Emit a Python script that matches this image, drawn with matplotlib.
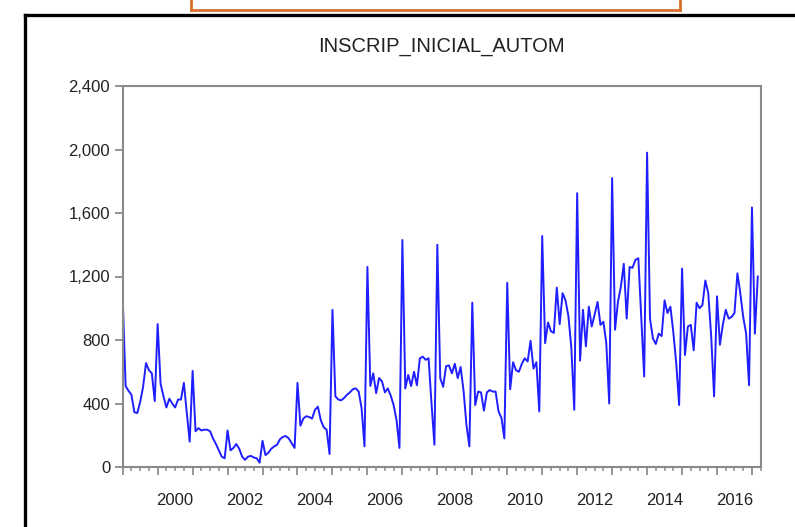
import numpy as np
import matplotlib
matplotlib.use("Agg")
import matplotlib.pyplot as plt
from matplotlib.lines import Line2D

plt.rcParams['font.family'] = ['Liberation Sans', 'DejaVu Sans']

# monthly series, 1999M01 .. 2017M03
start_year = 1999
values = [1070, 510, 480, 455, 345, 340, 410, 505, 655, 610, 590, 415,
          900, 525, 445, 375, 430, 400, 375, 425, 425, 530, 340, 160,
          605, 225, 245, 230, 235, 235, 225, 180, 145, 105, 65, 55,
          230, 105, 120, 145, 115, 65, 45, 65, 70, 60, 55, 27,
          165, 75, 90, 115, 130, 140, 175, 190, 195, 180, 150, 120,
          530, 260, 305, 320, 315, 305, 360, 380, 295, 250, 235, 82,
          990, 445, 425, 420, 435, 455, 470, 490, 495, 475, 370, 130,
          1260, 510, 590, 465, 560, 540, 470, 495, 450, 390, 295, 120,
          1430, 495, 580, 510, 600, 515, 685, 695, 675, 685, 400, 140,
          1400, 560, 505, 635, 640, 590, 650, 560, 630, 480, 265, 130,
          1035, 390, 475, 470, 355, 470, 485, 475, 475, 350, 310, 180,
          1160, 490, 660, 610, 600, 650, 685, 665, 795, 620, 660, 350,
          1455, 780, 910, 855, 845, 1130, 900, 1095, 1050, 950, 750, 360,
          1725, 670, 990, 760, 1010, 885, 960, 1040, 895, 915, 780, 400,
          1820, 865, 1040, 1135, 1280, 935, 1260, 1255, 1305, 1315, 940, 570,
          1980, 935, 810, 775, 840, 825, 1050, 970, 1010, 850, 655, 390,
          1250, 705, 885, 895, 735, 1035, 1000, 1020, 1175, 1095, 825, 445,
          1075, 770, 895, 990, 935, 945, 970, 1220, 1095, 945, 840, 515,
          1635, 840, 1200]
year_labels = ['2000', '2002', '2004', '2006', '2008', '2010', '2012', '2014', '2016']
y_ticks = [0, 400, 800, 1200, 1600, 2000, 2400]
title = 'INSCRIP_INICIAL_AUTOM'

x = start_year + np.arange(len(values)) / 12.0

fig = plt.figure(figsize=(7.95, 5.27), dpi=100)
ax = fig.add_axes([122.7/795, 1-467/527, (760.7-122.7)/795, (467-86)/527])

ax.plot(x, values, color='#1f1fff', linewidth=1.4)

ax.set_xlim(start_year, start_year + (len(values) + 0) / 12.0)
ax.set_ylim(0, 2400)

gray = '#8a8a8a'
for s in ax.spines.values():
    s.set_color(gray)
    s.set_linewidth(1.5)

ax.set_yticks(y_ticks)
ax.set_yticklabels(['{:,}'.format(v) for v in y_ticks])
ax.tick_params(axis='y', direction='out', length=6, width=1.3, color=gray,
               labelsize=12, pad=3, labelcolor='#222222')

ax.set_xticks(np.arange(start_year, 2018))
ax.set_xticks(np.arange(start_year, 2017.3, 0.25), minor=True)
ax.tick_params(axis='x', which='major', direction='out', length=6, width=1.3,
               color=gray, labelbottom=False)
ax.tick_params(axis='x', which='minor', direction='out', length=3, width=1.1,
               color=gray)

sec = ax.secondary_xaxis('bottom')
sec.set_xticks([int(l) + 0.5 for l in year_labels])
sec.set_xticklabels(year_labels)
sec.tick_params(length=0, pad=19, labelsize=12, labelcolor='#222222')
sec.spines['bottom'].set_visible(False)

fig.text(441/795, 1-47/527, title, ha='center', va='center', fontsize=14.5,
         color='#222222')

# page frame around the pasted graph
fig.add_artist(Line2D([25/795, 1], [1-15/527, 1-15/527], color='black', lw=2.4))
fig.add_artist(Line2D([25/795, 25/795], [0, 1-15/527], color='black', lw=2.4))
# orange box edge at the top
orange = '#d5702c'
fig.add_artist(Line2D([191/795, 680/795], [1-10/527, 1-10/527], color=orange, lw=2))
fig.add_artist(Line2D([191/795, 191/795], [1-10/527, 1], color=orange, lw=2))
fig.add_artist(Line2D([680/795, 680/795], [1-10/527, 1], color=orange, lw=2))

fig.savefig('out.png', dpi=100)
